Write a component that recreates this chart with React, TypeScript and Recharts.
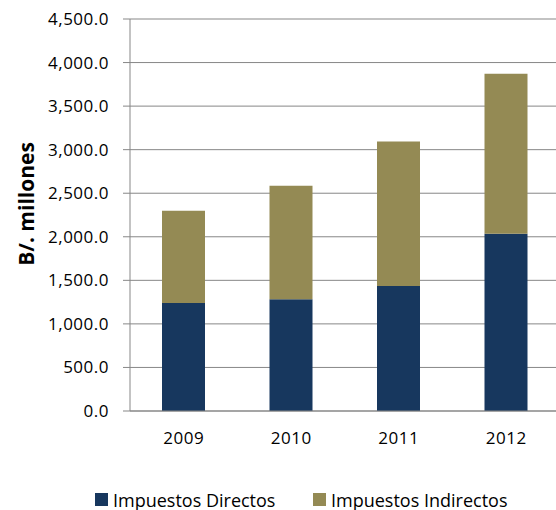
import { Bar, BarChart, CartesianGrid, Label, XAxis, YAxis } from "recharts";

const years = ["2009", "2010", "2011", "2012"];
const directos = [1240, 1283, 1436, 2034];
const indirectos = [1058, 1302, 1659, 1838];
const yTicks = [0, 500, 1000, 1500, 2000, 2500, 3000, 3500, 4000, 4500];
const edgeTicks = [0, 1, 2, 3, 4];

const seriesNames = ["Impuestos Directos", "Impuestos Indirectos"];
const seriesColors = ["#17375E", "#948A54"];

const data = years.map((year, i) => ({
  year,
  directos: directos[i],
  indirectos: indirectos[i],
}));

const GRID = "#878787";
const FONT = "'Open Sans', sans-serif";

function formatValue(v: number): string {
  return v.toLocaleString("en-US", { minimumFractionDigits: 1, maximumFractionDigits: 1 });
}

function AxisTitle() {
  return (
    <text
      x={26}
      y={204}
      transform="rotate(-90, 26, 204)"
      textAnchor="middle"
      dominantBaseline="central"
      fontFamily={FONT}
      fontWeight={700}
      fontSize={21}
      fill="#000"
    >
      B/. millones
    </text>
  );
}

export default function App() {
  const legendLeft = [95, 313];
  return (
    <div
      style={{
        position: "absolute",
        left: 0,
        top: 0,
        width: 556,
        height: 510,
        overflow: "hidden",
        background: "#fff",
        fontFamily: FONT,
      }}
    >
      <BarChart
        width={600}
        height={510}
        data={data}
        margin={{ top: 19, right: 40, left: 0, bottom: 0 }}
      >
        <CartesianGrid stroke={GRID} vertical={false} />
        {/* boundary tick marks between categories, like the spreadsheet axis */}
        <XAxis
          xAxisId="edges"
          type="number"
          domain={[0, 4]}
          ticks={edgeTicks}
          height={0}
          axisLine={false}
          tickLine={{ stroke: GRID }}
          tickSize={6}
          tickFormatter={() => ""}
        />
        <XAxis
          dataKey="year"
          height={99}
          axisLine={{ stroke: GRID }}
          tickLine={false}
          tickSize={0}
          tickMargin={21}
          tick={{ fill: "#000", fontSize: 17, letterSpacing: 0.5 }}
        />
        <YAxis
          width={130}
          domain={[0, 4500]}
          ticks={yTicks}
          tickFormatter={formatValue}
          axisLine={{ stroke: GRID }}
          tickLine={{ stroke: GRID }}
          tickSize={7}
          tickMargin={14}
          tick={{ fill: "#000", fontSize: 17, letterSpacing: 0.5 }}
        >
          <Label content={AxisTitle} />
        </YAxis>
        <Bar
          dataKey="directos"
          name={seriesNames[0]}
          stackId="a"
          fill={seriesColors[0]}
          barSize={43}
          isAnimationActive={false}
        />
        <Bar
          dataKey="indirectos"
          name={seriesNames[1]}
          stackId="a"
          fill={seriesColors[1]}
          barSize={43}
          isAnimationActive={false}
        />
      </BarChart>
      {seriesNames.map((name, i) => (
        <div
          key={name}
          style={{
            position: "absolute",
            left: legendLeft[i],
            top: 489,
            height: 21,
            display: "flex",
            alignItems: "center",
            fontSize: 18,
            color: "#000",
            whiteSpace: "nowrap",
          }}
        >
          <span
            style={{
              display: "inline-block",
              width: 13,
              height: 13,
              background: seriesColors[i],
              marginRight: 5,
            }}
          />
          {name}
        </div>
      ))}
    </div>
  );
}
